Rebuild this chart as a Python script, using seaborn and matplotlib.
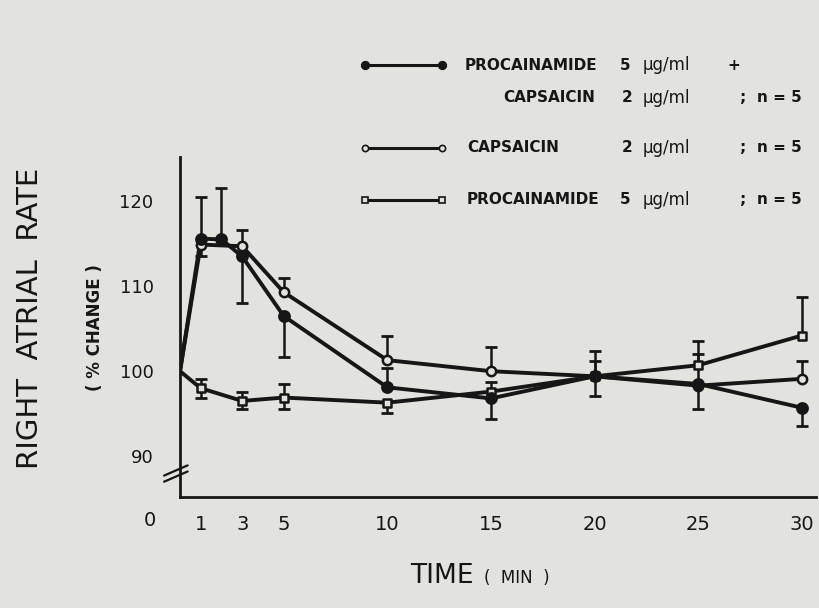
import numpy as np
import pandas as pd
import matplotlib
matplotlib.use("Agg")
import matplotlib.pyplot as plt
from matplotlib.lines import Line2D
import seaborn as sns

# ---- data: right atrial rate, % of baseline, mean with one-sided SE bars ----
time_pc = [0, 1, 2, 3, 5, 10, 15, 20, 25, 30]
pc_mean = [100, 115.6, 115.5, 113.5, 106.5, 98.1, 96.8, 99.4, 98.5, 95.7]
pc_up = [0, 4.9, 6.1, 0, 0, 2.3, 0, 0, 0, 0]
pc_dn = [0, 0, 0, 5.5, 4.8, 0, 2.4, 2.3, 2.9, 2.1]

time_cap = [0, 1, 3, 5, 10, 15, 20, 25, 30]
cap_mean = [100, 114.9, 114.7, 109.3, 101.3, 100.0, 99.4, 98.3, 99.1]
cap_up = [0, 0, 1.9, 1.7, 2.9, 2.9, 1.8, 5.3, 2.1]
cap_dn = [0, 1.3, 0, 0, 0, 0, 0, 0, 0]

time_pro = [0, 1, 3, 5, 10, 15, 20, 25, 30]
pro_mean = [100, 98.0, 96.5, 96.9, 96.3, 97.6, 99.4, 100.7, 104.2]
pro_up = [0, 1.1, 1.0, 1.6, 0, 1.1, 3.0, 1.3, 4.5]
pro_dn = [0, 1.1, 0.9, 1.4, 1.2, 0, 0, 0, 0]

x_ticks = [1, 3, 5, 10, 15, 20, 25, 30]
y_ticks = [90, 100, 110, 120]

PAPER = "#e2e2df"
INK = "#161616"

sns.set_theme(style="white")
plt.rcParams["font.family"] = ["DejaVu Sans"]

fig = plt.figure(figsize=(8.19, 6.08), dpi=100, facecolor=PAPER)
ax = fig.add_axes([180 / 819, 1 - 497 / 608, 636 / 819, 340 / 608])
ax.set_facecolor("none")

series = [
    ("pc", time_pc, pc_mean, pc_up, pc_dn, "o", INK, 55),
    ("cap", time_cap, cap_mean, cap_up, cap_dn, "o", PAPER, 45),
    ("pro", time_pro, pro_mean, pro_up, pro_dn, "s", PAPER, 40),
]

frames = []
for name, t, m, up, dn, mk, fc, sz in series:
    frames.append(pd.DataFrame({"time": t, "rate": m, "up": up, "dn": dn, "series": name}))
df = pd.concat(frames, ignore_index=True)

# connecting lines
for name, t, m, up, dn, mk, fc, sz in series:
    d = df[df.series == name]
    sns.lineplot(data=d, x="time", y="rate", ax=ax, color=INK, lw=2.8,
                 sort=False, estimator=None, zorder=2, legend=False)

# one-sided error bars (stem + cap)
for name, t, m, up, dn, mk, fc, sz in series:
    d = df[df.series == name]
    u = d[d.up > 0]
    ax.vlines(u.time, u.rate, u.rate + u.up, color=INK, lw=1.8, zorder=3)
    ax.scatter(u.time, u.rate + u.up, marker="_", s=70, linewidths=2.0, color=INK, zorder=3)
    w = d[d.dn > 0]
    ax.vlines(w.time, w.rate - w.dn, w.rate, color=INK, lw=1.8, zorder=3)
    ax.scatter(w.time, w.rate - w.dn, marker="_", s=70, linewidths=2.0, color=INK, zorder=3)

# markers (no marker at the baseline point)
for order, (name, t, m, up, dn, mk, fc, sz) in zip([5, 4, 4], series):
    d = df[(df.series == name) & (df.time > 0)]
    sns.scatterplot(data=d, x="time", y="rate", ax=ax, marker=mk, s=sz,
                    facecolor=fc, edgecolor=INK, linewidth=1.8, zorder=order, legend=False)

ax.set_xlim(0, 30.68)
ax.set_ylim(85.2, 125.2)
ax.set_xticks(x_ticks)
ax.set_xticklabels([str(v) for v in x_ticks], fontsize=14, color=INK)
ax.set_yticks(y_ticks)
ax.set_yticklabels([str(v) for v in y_ticks], fontsize=13, color=INK)
ax.tick_params(axis="both", direction="out", length=7, width=1.6, color=INK)
ax.tick_params(axis="x", pad=6)
ax.tick_params(axis="y", pad=12)
ax.set_xlabel("")
ax.set_ylabel("")
for s in ["top", "right"]:
    ax.spines[s].set_visible(False)
for s in ["left", "bottom"]:
    ax.spines[s].set_color(INK)
    ax.spines[s].set_linewidth(2.0)

# axis break marks on the y axis
for dy in (0.0, 0.018):
    ax.plot([-0.025, 0.012], [0.045 + dy, 0.075 + dy], transform=ax.transAxes,
            color=INK, lw=1.6, clip_on=False)

# origin label
fig.text(150 / 819, 1 - 521 / 608, "0", fontsize=14, color=INK, ha="center", va="center")

# axis titles
fig.text(30 / 819, 1 - 318 / 608, "RIGHT  ATRIAL  RATE", rotation=90, fontsize=21,
         color=INK, ha="center", va="center")
fig.text(95 / 819, 1 - 328 / 608, "( % CHANGE )", rotation=90, fontsize=12,
         fontweight="bold", color=INK, ha="center", va="center")
fig.text(410 / 819, 1 - 576 / 608, "TIME", fontsize=19, color=INK, ha="left", va="center")
fig.text(484 / 819, 1 - 578 / 608, "(  MIN  )", fontsize=12, color=INK, ha="left", va="center")


def fx(px):
    return px / 819


def fy(py):
    return 1 - py / 608


# legend
def swatch(y, marker, fc, ms, x0=365, x1=442):
    fig.add_artist(Line2D([fx(x0), fx(x1)], [fy(y), fy(y)], color=INK, lw=2.2,
                          transform=fig.transFigure))
    for xx in (x0, x1):
        fig.add_artist(Line2D([fx(xx)], [fy(y)], marker=marker, ms=ms, mfc=fc,
                              mec=INK, mew=1.2, transform=fig.transFigure))


lkw = dict(fontsize=11, fontweight="bold", color=INK, va="center", ha="left")
ukw = dict(fontsize=12, color=INK, va="center", ha="left")

swatch(65, "o", INK, 5.5)
fig.text(fx(465), fy(65), "PROCAINAMIDE", **lkw)
fig.text(fx(620), fy(65), "5", **lkw)
fig.text(fx(643), fy(65), "\u03bcg/ml", **ukw)
fig.text(fx(727), fy(65), "+", **lkw)

fig.text(fx(503), fy(98), "CAPSAICIN", **lkw)
fig.text(fx(622), fy(98), "2", **lkw)
fig.text(fx(643), fy(98), "\u03bcg/ml", **ukw)
fig.text(fx(740), fy(98), ";", **lkw)
fig.text(fx(757), fy(98), "n = 5", **lkw)

swatch(148, "o", PAPER, 4.5)
fig.text(fx(467), fy(148), "CAPSAICIN", **lkw)
fig.text(fx(622), fy(148), "2", **lkw)
fig.text(fx(643), fy(148), "\u03bcg/ml", **ukw)
fig.text(fx(740), fy(148), ";", **lkw)
fig.text(fx(757), fy(148), "n = 5", **lkw)

swatch(200, "s", PAPER, 4.5)
fig.text(fx(467), fy(200), "PROCAINAMIDE", **lkw)
fig.text(fx(620), fy(200), "5", **lkw)
fig.text(fx(643), fy(200), "\u03bcg/ml", **ukw)
fig.text(fx(740), fy(200), ";", **lkw)
fig.text(fx(757), fy(200), "n = 5", **lkw)

fig.savefig("out.png", dpi=100, facecolor=PAPER)
